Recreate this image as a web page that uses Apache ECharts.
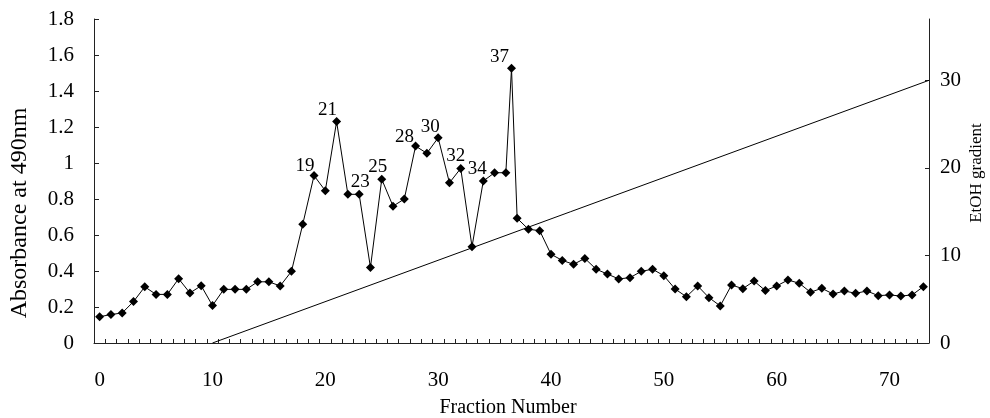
<!DOCTYPE html>
<html><head><meta charset="utf-8">
<script src="https://cdn.jsdelivr.net/npm/echarts@6/dist/echarts.min.js"></script>
<style>html,body{margin:0;padding:0;background:#fff}#c{width:990px;height:418px}</style>
</head><body><div id="c"></div>
<script>
// ---- data ----
const fractions = [0,1,2,3,4,5,6,7,8,9,10,11,12,13,14,15,16,17,18,19,20,21,22,23,24,25,26,27,28,29,30,31,32,33,34,35,36,36.5,37,38,39,40,41,42,43,44,45,46,47,48,49,50,51,52,53,54,55,56,57,58,59,60,61,62,63,64,65,66,67,68,69,70,71,72,73];
const absorbance = [0.146,0.158,0.167,0.23,0.312,0.27,0.27,0.357,0.278,0.318,0.208,0.298,0.298,0.298,0.34,0.34,0.317,0.398,0.66,0.93,0.846,1.23,0.826,0.826,0.42,0.91,0.76,0.80,1.094,1.054,1.14,0.89,0.97,0.535,0.90,0.946,0.946,1.526,0.693,0.632,0.624,0.493,0.459,0.437,0.47,0.41,0.383,0.356,0.363,0.398,0.41,0.374,0.30,0.257,0.317,0.252,0.206,0.322,0.302,0.344,0.291,0.317,0.35,0.332,0.282,0.304,0.272,0.289,0.276,0.289,0.263,0.267,0.261,0.267,0.313];
const peakFractions = [19,21,23,25,28,30,32,34,36.5];
const peakLabels = ['19','21','23','25','28','30','32','34','37'];
const gradientFractions = [10, 73.5];
const gradientEtOH = [0, 30];
const xTickLabels = [0,10,20,30,40,50,60,70];
const rightTickLabels = [0,10,20,30];

// ---- styles ----
const FONT = '"Liberation Serif","Times New Roman",serif';
const labelOffsets = [[-9,-10],[-9,-12],[1,-12],[-4,-12],[-11,-9],[-8,-11],[-5,-12],[-6,-12],[-12,-11]];
const xMinorTicks = [];
for (let i = 0; i < 73; i++) xMinorTicks.push(i + 0.5);

const seriesData = fractions.map((f, i) => {
  const k = peakFractions.indexOf(f);
  const item = { value: [f, absorbance[i]] };
  if (k >= 0) {
    item.label = {
      show: true, position: 'inside', formatter: peakLabels[k],
      offset: labelOffsets[k], fontSize: 19, fontFamily: FONT, color: '#000'
    };
  }
  return item;
});

const chart = echarts.init(document.getElementById('c'));
const axisLineStyle = { show: true, onZero: false, lineStyle: { color: '#222', width: 1 } };
chart.setOption({
  animation: false,
  backgroundColor: '#fff',
  grid: { left: 94, right: 61, top: 19, bottom: 75, containLabel: false },
  xAxis: {
    type: 'value', min: -0.5, max: 73.5,
    axisLine: axisLineStyle,
    axisTick: { show: true, inside: true, length: 4, customValues: xMinorTicks, lineStyle: { color: '#222' } },
    axisLabel: { customValues: xTickLabels, margin: 27, fontSize: 21, fontFamily: FONT, color: '#000' },
    splitLine: { show: false }
  },
  yAxis: [{
    type: 'value', min: 0, max: 1.8, interval: 0.2, position: 'left',
    axisLine: axisLineStyle,
    axisTick: { show: true, inside: true, length: 5, lineStyle: { color: '#222' } },
    axisLabel: { margin: 20, fontSize: 21, fontFamily: FONT, color: '#000' },
    splitLine: { show: false }
  }, {
    type: 'value', min: 0, max: 37, position: 'right',
    axisLine: axisLineStyle,
    axisTick: { show: true, inside: true, length: 4, customValues: [10,20,30], lineStyle: { color: '#222' } },
    axisLabel: { customValues: rightTickLabels, margin: 11, fontSize: 21, fontFamily: FONT, color: '#000' },
    splitLine: { show: false }
  }],
  graphic: [
    { type: 'text', x: 20, y: 213, rotation: Math.PI / 2,
      style: { text: 'Absorbance at 490nm', fontSize: 24, fontFamily: FONT, fill: '#000', align: 'center', verticalAlign: 'middle' } },
    { type: 'text', x: 977, y: 173, rotation: Math.PI / 2,
      style: { text: 'EtOH gradient', fontSize: 17, fontFamily: FONT, fill: '#000', align: 'center', verticalAlign: 'middle' } },
    { type: 'text', x: 508, y: 408,
      style: { text: 'Fraction Number', fontSize: 20, fontFamily: FONT, fill: '#000', align: 'center', verticalAlign: 'middle' } }
  ],
  series: [{
    type: 'line', yAxisIndex: 0, data: seriesData,
    symbol: 'diamond', symbolSize: 9, showAllSymbol: true,
    itemStyle: { color: '#000' }, lineStyle: { color: '#000', width: 1 },
    label: { show: false }, emphasis: { disabled: true }
  }, {
    type: 'line', yAxisIndex: 1,
    data: gradientFractions.map((f, i) => [f, gradientEtOH[i]]),
    symbol: 'none', lineStyle: { color: '#000', width: 1 }, emphasis: { disabled: true }
  }]
});
</script></body></html>
